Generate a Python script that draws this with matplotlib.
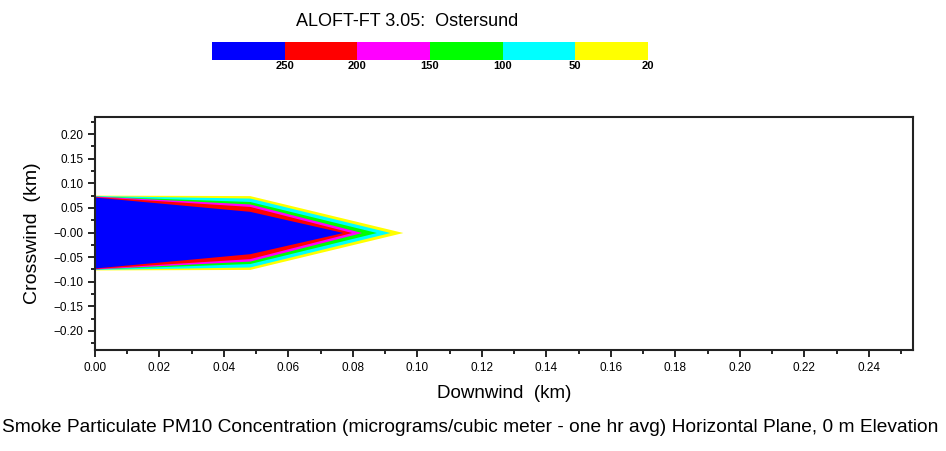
#!/usr/bin/env python3

import numpy as np
import matplotlib
matplotlib.use('Agg')
import matplotlib.pyplot as plt

# legend bands (colorbar along the top), highest concentration first
band_colors = ['#0000ff', '#ff0000', '#ff00ff', '#00ff00', '#00ffff', '#ffff00']
band_labels = ['250', '200', '150', '100', '50', '20']

# plume outline for each contour level (micrograms/m3).
# half-width (km) at x = 0 and at the end of the straight part, then the tip.
levels = [20, 50, 100, 150, 200, 250]
level_colors = ['#ffff00', '#00ffff', '#00ff00', '#ff00ff', '#ff0000', '#0000ff']
halfwidth_start = [0.076, 0.075, 0.074, 0.074, 0.073, 0.072]
halfwidth_bend = [0.075, 0.070, 0.063, 0.058, 0.053, 0.043]
bend_x = [0.048, 0.048, 0.048, 0.048, 0.048, 0.048]
tip_x = [0.0955, 0.0915, 0.0873, 0.0827, 0.0796, 0.0769]

xticks = [0.00, 0.02, 0.04, 0.06, 0.08, 0.10, 0.12, 0.14, 0.16, 0.18, 0.20, 0.22, 0.24]
xticklabels = ['0.00', '0.02', '0.04', '0.06', '0.08', '0.10', '0.12', '0.14',
               '0.16', '0.18', '0.20', '0.22', '0.24']
yticks = [0.20, 0.15, 0.10, 0.05, 0.0, -0.05, -0.10, -0.15, -0.20]
yticklabels = ['0.20', '0.15', '0.10', '0.05', '\u22120.00', '\u22120.05',
               '\u22120.10', '\u22120.15', '\u22120.20']

plt.rcParams['font.family'] = ['Liberation Sans', 'DejaVu Sans']

fig = plt.figure(figsize=(9.46, 4.51), dpi=100)

# main plume plot
ax = fig.add_axes([95 / 946, 1 - 350 / 451, 818 / 946, 233 / 451])
for i in range(len(levels)):
    px = [0.0, bend_x[i], tip_x[i]]
    pw = np.array([halfwidth_start[i], halfwidth_bend[i], 0.0])
    ax.fill_between(px, -pw, pw, color=level_colors[i], linewidth=0)

ax.set_xlim(0, 0.2537)
ax.set_ylim(-0.2386, 0.2346)
ax.set_xticks(xticks)
ax.set_xticklabels(xticklabels)
ax.set_xticks(np.arange(0.01, 0.26, 0.02), minor=True)
ax.set_yticks(yticks)
ax.set_yticklabels(yticklabels)
ax.set_yticks(np.arange(-0.225, 0.23, 0.05), minor=True)
ax.tick_params(which='major', direction='out', length=5, width=1.2, labelsize=8.5)
ax.tick_params(which='minor', direction='out', length=3, width=1.2)
for s in ax.spines.values():
    s.set_linewidth(1.5)
    s.set_color('#222222')
ax.set_xlabel('Downwind  (km)', fontsize=13.5, labelpad=8)
ax.set_ylabel('Crosswind  (km)', fontsize=14, labelpad=9)

# colour key at the top
cax = fig.add_axes([212 / 946, 1 - 60 / 451, 436 / 946, 18 / 451])
cax.bar(np.arange(len(band_colors)) + 0.5, [1] * len(band_colors), width=1.0,
        color=band_colors, linewidth=0)
cax.set_xlim(0, len(band_colors))
cax.set_ylim(0, 1)
cax.set_xticks(np.arange(1, len(band_colors) + 1))
cax.set_xticklabels(band_labels, fontsize=8, fontweight='bold')
cax.set_yticks([])
cax.tick_params(length=0, pad=1)
for s in cax.spines.values():
    s.set_visible(False)

fig.text(407 / 946, 1 - 22 / 451, 'ALOFT-FT 3.05:  Ostersund', ha='center',
         va='center', fontsize=13)
fig.text(470 / 946, 1 - 428 / 451,
         'Smoke Particulate PM10 Concentration (micrograms/cubic meter - one hr avg) '
         'Horizontal Plane, 0 m Elevation', ha='center', va='center', fontsize=13.8)

fig.savefig('out.png', dpi=100)
